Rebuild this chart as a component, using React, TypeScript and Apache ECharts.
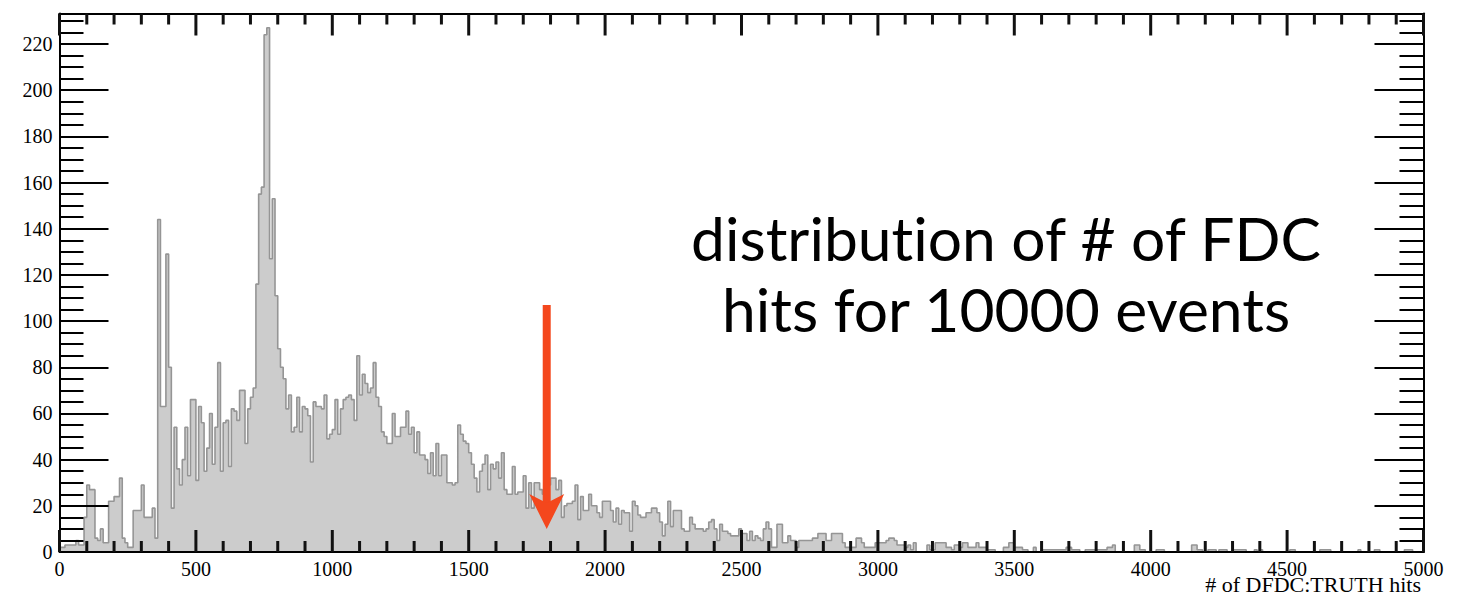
import React, { useEffect, useRef } from "react";
import * as echarts from "echarts";

// ---- data ----
const BIN_WIDTH = 10;
const X_MIN = 0;
const X_MAX = 5000;
const Y_MAX = 233.2;

// counts per bin (bin i covers [10*i, 10*i + 10))
const counts: number[] = [
  2, 2, 3, 3, 3, 3, 5, 3, 3, 15,
  29, 27, 27, 6, 5, 10, 4, 4, 22, 22,
  24, 24, 32, 6, 4, 2, 2, 18, 18, 18,
  29, 15, 15, 15, 19, 6, 144, 63, 63, 129,
  80, 19, 54, 36, 29, 40, 54, 33, 66, 66,
  31, 63, 56, 35, 45, 60, 38, 54, 82, 35,
  56, 57, 37, 62, 61, 57, 70, 70, 47, 62,
  67, 71, 116, 155, 158, 224, 227, 127, 153, 111,
  88, 80, 75, 62, 68, 52, 54, 67, 52, 63,
  62, 59, 39, 65, 63, 63, 62, 68, 49, 51,
  53, 66, 51, 62, 66, 67, 68, 66, 57, 85,
  68, 77, 73, 69, 71, 82, 67, 63, 52, 50,
  47, 47, 60, 50, 50, 54, 54, 61, 51, 54,
  43, 52, 42, 42, 40, 34, 43, 33, 47, 33,
  42, 42, 30, 30, 29, 30, 55, 51, 48, 47,
  43, 38, 32, 26, 35, 38, 42, 27, 38, 36,
  39, 32, 43, 27, 25, 25, 37, 25, 26, 26,
  33, 19, 30, 19, 30, 30, 27, 25, 27, 29,
  32, 32, 27, 31, 15, 20, 21, 21, 22, 29,
  14, 24, 18, 18, 25, 20, 20, 17, 15, 22,
  22, 22, 18, 13, 19, 12, 18, 17, 17, 9,
  22, 20, 16, 15, 15, 17, 17, 19, 19, 17,
  13, 7, 12, 22, 11, 18, 18, 18, 10, 9,
  9, 15, 12, 10, 10, 10, 9, 10, 13, 14,
  10, 5, 12, 9, 9, 8, 7, 7, 7, 10,
  8, 8, 5, 9, 5, 7, 6, 5, 10, 13,
  10, 2, 2, 12, 12, 4, 4, 7, 5, 5,
  2, 5, 5, 5, 5, 5, 6, 6, 8, 8,
  8, 5, 5, 8, 8, 8, 8, 4, 2, 2,
  2, 2, 6, 6, 4, 2, 2, 2, 2, 4,
  4, 4, 4, 5, 6, 6, 5, 3, 3, 3,
  2, 3, 1, 4, 0, 0, 0, 0, 3, 1,
  1, 4, 4, 4, 4, 2, 2, 1, 3, 3,
  2, 4, 4, 2, 2, 2, 4, 2, 2, 2,
  1, 1, 1, 0, 0, 0, 2, 2, 4, 4,
  2, 2, 2, 1, 1, 0, 0, 2, 0, 0,
  1, 1, 1, 1, 1, 1, 1, 1, 1, 2,
  2, 1, 1, 1, 0, 0, 1, 1, 1, 1,
  1, 1, 1, 1, 2, 2, 3, 0, 0, 0,
  0, 0, 0, 0, 3, 3, 1, 1, 0, 0,
  0, 0, 1, 1, 1, 0, 0, 0, 0, 0,
  0, 0, 0, 0, 0, 3, 3, 1, 1, 0,
  0, 1, 1, 1, 0, 1, 1, 1, 0, 0,
  1, 1, 1, 1, 1, 0, 0, 0, 1, 0,
  1, 0, 0, 0, 0, 0, 0, 0, 0, 0,
  0, 1, 1, 0, 0, 0, 0, 0, 0, 0,
  0, 0, 1, 1, 1, 1, 0, 0, 0, 0,
  0, 0, 0, 0, 0, 0, 1, 0, 0, 0,
  0, 0, 1, 1, 0, 0, 0, 0, 0, 0,
  0, 0, 0, 1, 1, 1, 0, 0, 0, 0,
];

const xMajorTicks: number[] = [0, 500, 1000, 1500, 2000, 2500, 3000, 3500, 4000, 4500, 5000];
const xMinorTicks: number[] = [
  100, 200, 300, 400, 600, 700, 800, 900, 1100, 1200, 1300, 1400,
  1600, 1700, 1800, 1900, 2100, 2200, 2300, 2400, 2600, 2700, 2800, 2900,
  3100, 3200, 3300, 3400, 3600, 3700, 3800, 3900, 4100, 4200, 4300, 4400,
  4600, 4700, 4800, 4900,
];
const yMajorTicks: number[] = [0, 20, 40, 60, 80, 100, 120, 140, 160, 180, 200, 220];
const yMinorTicks: number[] = [
  5, 10, 15, 25, 30, 35, 45, 50, 55, 65, 70, 75, 85, 90, 95, 105, 110, 115,
  125, 130, 135, 145, 150, 155, 165, 170, 175, 185, 190, 195, 205, 210, 215,
  225, 230,
];

const X_TITLE = "# of DFDC:TRUTH hits";
const NOTE_LINES = ["distribution of # of FDC", "hits for 10000 events"];
const ARROW_X = 1786;
const ARROW_TOP = 107;
const ARROW_TIP = 10;

export default function App() {
  const ref = useRef<HTMLDivElement>(null);

  useEffect(() => {
    if (!ref.current) return;
    const chart = echarts.init(ref.current, undefined, { renderer: "svg" });

    const stepData: number[][] = counts.map((c, i) => [X_MIN + i * BIN_WIDTH, c]);
    stepData.push([X_MIN + counts.length * BIN_WIDTH, counts[counts.length - 1]]);

    const black = "#000";
    const serif = "Liberation Serif";

    const makeX = (position: "top" | "bottom", withLabels: boolean) => ({
      type: "value" as const,
      min: X_MIN,
      max: X_MAX,
      interval: 500,
      position,
      z: 10,
      splitLine: { show: false },
      axisLine: { show: true, onZero: false, lineStyle: { color: black, width: 2 } },
      axisTick: { show: false },
      axisLabel: withLabels
        ? {
            show: true,
            color: black,
            fontFamily: serif,
            fontSize: 20,
            margin: 7,
            formatter: (v: number) => String(v),
          }
        : { show: false },
    });

    const makeY = (
      position: "left" | "right",
      ticks: number[],
      len: number,
      withLine: boolean,
      withLabels: boolean
    ) => ({
      type: "value" as const,
      min: 0,
      max: Y_MAX,
      interval: 20,
      position,
      z: 10,
      splitLine: { show: false },
      axisLine: { show: withLine, onZero: false, lineStyle: { color: black, width: 2 } },
      axisTick: {
        show: true,
        inside: true,
        length: len,
        customValues: ticks,
        lineStyle: { color: black, width: 2 },
      },
      axisLabel: withLabels
        ? {
            show: true,
            customValues: yMajorTicks,
            color: black,
            fontFamily: serif,
            fontSize: 20,
            margin: 7,
            formatter: (v: number) => String(v),
          }
        : { show: false },
    });

    chart.setOption({
      animation: false,
      backgroundColor: "#fff",
      grid: {
        left: 59.5,
        top: 13.5,
        width: 1364,
        height: 538.5,
        containLabel: false,
        outerBoundsMode: "none",
      },
      xAxis: [makeX("bottom", true), makeX("top", false)],
      yAxis: [
        makeY("left", yMajorTicks, 49, true, true),
        makeY("left", yMinorTicks, 24, false, false),
        makeY("right", yMajorTicks, 49, true, false),
        makeY("right", yMinorTicks, 24, false, false),
      ],
      series: [
        {
          type: "line",
          xAxisIndex: 0,
          yAxisIndex: 0,
          step: "end",
          data: stepData,
          showSymbol: false,
          symbol: "none",
          lineStyle: { color: "#959595", width: 1.6 },
          areaStyle: { color: "#cccccc", opacity: 1 },
          z: 1,
        },
      ],
    });

    const px = (x: number, y: number) =>
      chart.convertToPixel({ xAxisIndex: 0, yAxisIndex: 0 }, [x, y]) as number[];

    // x-axis ticks (bottom and top), positioned through the axis scale
    const els: any[] = [];
    const bottomY = px(X_MIN, 0)[1];
    const topY = px(X_MIN, Y_MAX)[1];
    const tickW = 3;
    const addXTicks = (values: number[], len: number) => {
      values.forEach((v) => {
        const x = px(v, 0)[0];
        els.push({
          type: "rect",
          shape: { x: x - tickW / 2, y: bottomY - len, width: tickW, height: len },
          style: { fill: "#111111" },
          z: 200,
        });
        els.push({
          type: "rect",
          shape: { x: x - tickW / 2, y: topY, width: tickW, height: len },
          style: { fill: "#111111" },
          z: 200,
        });
      });
    };
    addXTicks(xMajorTicks, 22);
    addXTicks(xMinorTicks, 11);

    // annotation: arrow placed in data coordinates
    const top = px(ARROW_X, ARROW_TOP);
    const tip = px(ARROW_X, ARROW_TIP);
    const tx = tip[0];
    const ty = tip[1];
    const arrowColor = "#F4471D";
    const headHalf = 17.5;
    const headLen = 35;
    const notch = 26;

    els.push(
      {
        type: "rect",
        shape: { x: tx - 4, y: top[1], width: 8, height: ty - notch - top[1] + 2 },
        style: { fill: arrowColor },
        z: 210,
      },
      {
        type: "polygon",
        shape: {
          points: [
            [tx - headHalf, ty - headLen],
            [tx, ty - notch],
            [tx + headHalf, ty - headLen],
            [tx, ty],
          ],
        },
        style: { fill: arrowColor },
        z: 210,
      },
      {
        type: "text",
        x: 1006,
        y: 237,
        style: {
          text: NOTE_LINES[0],
          fontFamily: "Lato",
          fontSize: 60.5,
          fill: "#000",
          align: "center",
          verticalAlign: "middle",
        },
        z: 210,
      },
      {
        type: "text",
        x: 1006,
        y: 308,
        style: {
          text: NOTE_LINES[1],
          fontFamily: "Lato",
          fontSize: 60.5,
          fill: "#000",
          align: "center",
          verticalAlign: "middle",
        },
        z: 210,
      },
      {
        type: "text",
        x: 1421,
        y: 584,
        style: {
          text: X_TITLE,
          fontFamily: serif,
          fontSize: 22,
          fill: "#000",
          align: "right",
          verticalAlign: "middle",
        },
        z: 210,
      }
    );

    chart.setOption({ graphic: els });

    return () => {
      chart.dispose();
    };
  }, []);

  return (
    <div
      ref={ref}
      style={{
        position: "absolute",
        left: 0,
        top: 0,
        width: 1458,
        height: 594,
        background: "#fff",
        fontVariantLigatures: "none",
        fontFeatureSettings: '"liga" 0, "clig" 0',
      }}
    />
  );
}
